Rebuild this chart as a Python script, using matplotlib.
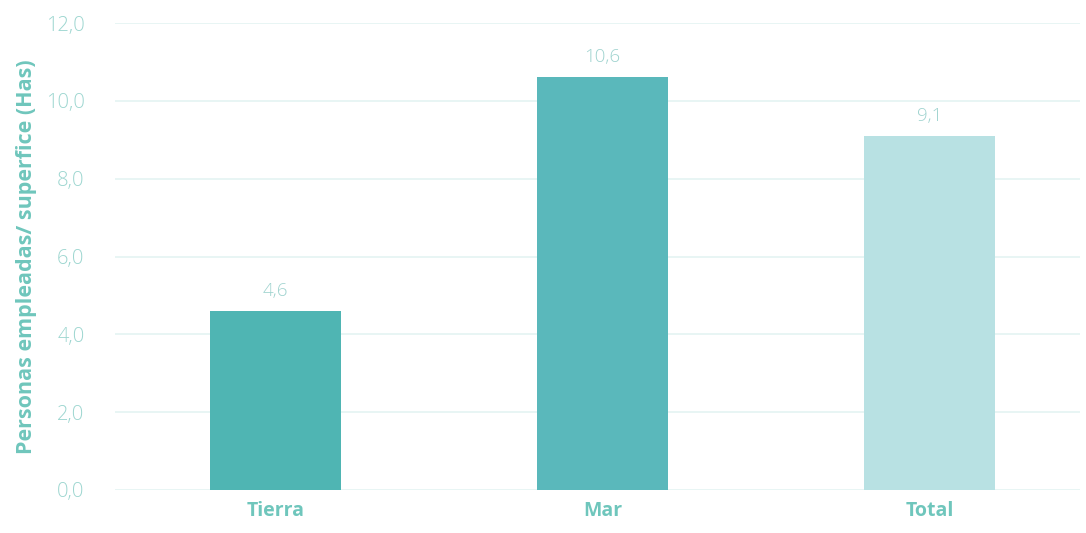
import matplotlib
matplotlib.use("Agg")
import matplotlib.pyplot as plt
from matplotlib.ticker import FuncFormatter

# data
categories = ["Tierra", "Mar", "Total"]
values = [4.6, 10.6, 9.1]
bar_colors = ["#4fb5b3", "#5ab8bb", "#b8e1e3"]
yticks = [0, 2, 4, 6, 8, 10, 12]

TICK_C = "#9dd6d0"
LABEL_C = "#6fc6bc"

plt.rcParams["font.family"] = ["Open Sans", "DejaVu Sans"]

fig = plt.figure(figsize=(10.86, 5.33), dpi=100)
ax = fig.add_axes([115 / 1086, 1 - 490 / 533, (1080 - 115) / 1086, (490 - 23) / 533])

x = range(len(categories))
bars = ax.bar(x, values, width=0.4, color=bar_colors, zorder=3)

for xi, v in zip(x, values):
    ax.annotate(f"{v:.1f}".replace(".", ","), (xi, v), xytext=(0, 8),
                textcoords="offset points", ha="center", va="bottom",
                fontsize=13.5, color="#9fd3cf", fontweight="light")

ax.set_xlim(-0.49, 2.46)
ax.set_ylim(0, 12)
ax.set_yticks(yticks)
ax.yaxis.set_major_formatter(FuncFormatter(lambda v, p: f"{v:.1f}".replace(".", ",")))
ax.grid(axis="y", color="#e4f3f2", linewidth=1.2, zorder=0)
ax.set_xticks(list(x))
ax.set_xticklabels(categories, fontsize=14, fontweight="bold", color=LABEL_C)
ax.tick_params(axis="y", length=0, labelsize=14.5, labelcolor=TICK_C, pad=22)
ax.tick_params(axis="x", length=0, pad=8)
for lbl in ax.get_yticklabels():
    lbl.set_fontweight("light")
for s in ax.spines.values():
    s.set_visible(False)

ax.set_ylabel("Personas empleadas/ superfice (Has)", fontsize=15.5,
              fontweight="bold", color=LABEL_C)
ax.yaxis.set_label_coords(-0.081, 0.5)

fig.savefig("out.png", dpi=100)
